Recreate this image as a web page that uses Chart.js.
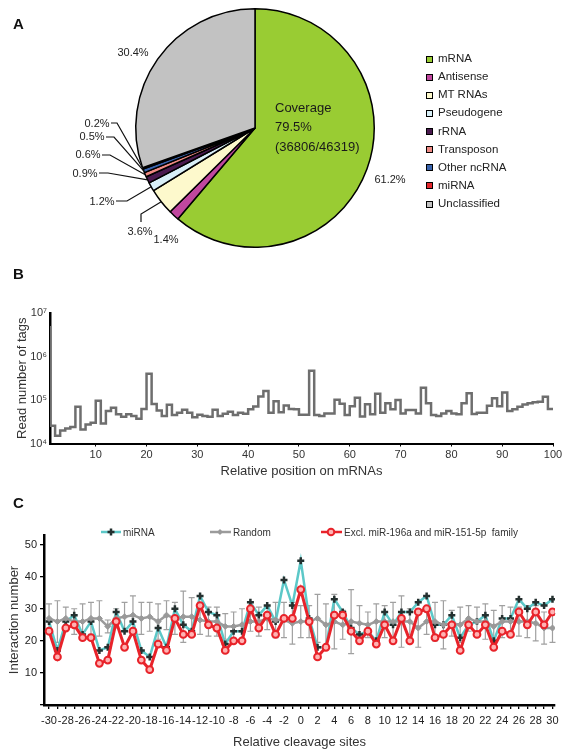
<!DOCTYPE html>
<html>
<head>
<meta charset="utf-8">
<script src="https://cdn.jsdelivr.net/npm/chart.js@4.4.1/dist/chart.umd.min.js"></script>
<style>
  body { margin: 0; background: #fff; font-family: "Liberation Sans", Arial, sans-serif; color: #222; }
  #wrap { position: relative; width: 573px; height: 755px; overflow: hidden; }
  canvas { position: absolute; left: 0; }
  .tag { position: absolute; left: 13px; font-weight: bold; font-size: 15px; color: #111; }
  #legendA { position: absolute; left: 426px; top: 49px; font-size: 11.5px; color: #222; }
  #legendA div { height: 18.15px; line-height: 18.15px; white-space: nowrap; }
  #legendA span.box { display: inline-block; width: 5px; height: 5px; border: 1.2px solid #000; margin-right: 5px; vertical-align: -0.5px; }
  .legC { position: absolute; top: 527px; font-size: 10px; color: #333; white-space: nowrap; line-height: 12px; }
  .legC svg { vertical-align: -1px; margin-right: 2px; }
</style>
</head>
<body>
<div id="wrap">
  <canvas id="chartA" width="573" height="260" style="top:0"></canvas>
  <canvas id="chartB" width="573" height="193" style="top:290px"></canvas>
  <canvas id="chartC" width="573" height="234" style="top:520px"></canvas>
  <div class="tag" style="top:15px">A</div>
  <div class="tag" style="top:265px">B</div>
  <div class="tag" style="top:494px">C</div>
  <div id="legendA"></div>
  <div class="legC" style="left:101px"><svg width="20" height="10"><line x1="0" y1="5" x2="20" y2="5" stroke="#5cc8c8" stroke-width="2.5"/><path d="M10 1.5V8.5M6.5 5H13.5" stroke="#24302f" stroke-width="2.5"/></svg>miRNA</div>
  <div class="legC" style="left:210px"><svg width="21" height="10"><line x1="0" y1="5" x2="21" y2="5" stroke="#9b9b9b" stroke-width="2.5"/><path d="M10 2L13 5L10 8L7 5Z" fill="#999"/></svg>Random</div>
  <div class="legC" style="left:321px"><svg width="21" height="10"><line x1="0" y1="5" x2="21" y2="5" stroke="#e8232a" stroke-width="2.5"/><circle cx="10" cy="5" r="3.3" fill="#ffb3b3" stroke="#e8232a" stroke-width="2"/></svg>Excl. miR-196a and miR-151-5p&nbsp; family</div>
</div>
<script>
// ---- Panel A: read categories ----
const pieLabels = ['mRNA', 'Antisense', 'MT RNAs', 'Pseudogene', 'rRNA', 'Transposon', 'Other ncRNA', 'miRNA', 'Unclassified'];
const pieShares = [61.2, 1.4, 3.6, 1.2, 0.9, 0.6, 0.5, 0.2, 30.4];
const pieColors = ['#99cc33', '#c0479e', '#fdf9cc', '#d8eff7', '#4a1a4f', '#ef8a84', '#3a64ad', '#e4272d', '#c2c2c2'];
const coverageText = ['Coverage', '79.5%', '(36806/46319)'];

// ---- Panel B: read number of tags per relative position ----
const readCounts = [
  5.0e6, 2.55e4, 1.5e4, 2.0e4, 2.2e4, 2.4e4, 7.0e4, 2.1e4, 2.75e4, 3.0e4,
  9.6e4, 2.9e4, 5.6e4, 6.6e4, 4.7e4, 4.1e4, 4.7e4, 4.3e4, 3.7e4, 6.2e4,
  4.0e5, 8.1e4, 5.7e4, 4.3e4, 7.8e4, 4.5e4, 5.1e4, 6.0e4, 5.1e4, 4.0e4,
  4.6e4, 4.3e4, 4.1e4, 6.0e4, 4.3e4, 4.8e4, 5.4e4, 4.5e4, 5.1e4, 4.8e4,
  6.1e4, 7.1e4, 1.2e5, 1.62e5, 5.1e4, 9.3e4, 5.2e4, 7.5e4, 6.2e4, 6.1e4,
  4.6e4, 4.6e4, 4.7e5, 4.5e4, 4.3e4, 4.9e4, 4.9e4, 1.02e5, 8.2e4, 4.5e4,
  7.2e4, 1.12e5, 4.2e4, 8.0e4, 4.7e4, 1.4e5, 5.1e4, 8.4e4, 6.1e4, 1.0e5,
  4.9e4, 5.9e4, 5.9e4, 4.9e4, 1.92e5, 8.4e4, 4.5e4, 4.3e4, 4.9e4, 5.6e4,
  4.9e4, 4.7e4, 8.4e4, 1.43e5, 4.75e4, 5.1e4, 5.1e4, 7.4e4, 1.1e5, 7.2e4,
  1.48e5, 5.6e4, 6.1e4, 7.0e4, 7.9e4, 8.4e4, 8.9e4, 9.1e4, 1.19e5, 6.2e4
];
const positions = readCounts.map((v, i) => i + 1);
const xTicksB = [10, 20, 30, 40, 50, 60, 70, 80, 90, 100];
const yTicksB = [1e4, 1e5, 1e6, 1e7];

// ---- Panel C: interaction number around cleavage sites ----
const sites = [-30, -29, -28, -27, -26, -25, -24, -23, -22, -21, -20, -19, -18, -17, -16, -15, -14, -13, -12, -11, -10,
  -9, -8, -7, -6, -5, -4, -3, -2, -1, 0, 1, 2, 3, 4, 5, 6, 7, 8, 9, 10,
  11, 12, 13, 14, 15, 16, 17, 18, 19, 20, 21, 22, 23, 24, 25, 26, 27, 28, 29, 30];
const mirnaCounts = [26, 17, 26, 28, 22, 26, 17, 18, 29, 23, 26, 17, 15, 24, 18, 30, 25, 23, 34, 29, 28,
  19, 23, 23, 32, 28, 31, 26, 39, 31, 45, 27, 18, 18, 33, 29, 24, 22, 23, 20, 29,
  25, 29, 29, 32, 34, 25, 25, 28, 21, 25, 26, 28, 20, 27, 27, 33, 30, 32, 31, 33];
const randomMean = [27, 26, 27, 26, 26, 27, 27, 24.5, 27, 27.5, 28, 27, 27.5, 26, 28, 27, 27.5, 27.5, 26.5, 26, 26,
  24.5, 24.5, 25, 26, 26, 27, 26.5, 26.5, 25.5, 26, 26, 27, 25, 26, 25, 26, 25.5, 25, 26, 26,
  26, 26, 26, 24, 26, 26, 25, 25.5, 25, 27, 26, 26, 24.5, 26, 26, 26, 26, 25.5, 24, 24];
const randomErr = [4.5, 6.5, 3.5, 4, 5.5, 5, 5.5, 2, 3, 4.5, 6, 5, 4.5, 5.5, 4.5, 5, 8, 6, 4.5, 4.5, 4.5,
  4, 4.5, 5, 3, 4.5, 3.5, 5.5, 5.5, 6.5, 5, 5, 7.5, 6.5, 8.5, 4.5, 10, 5.5, 4, 5.5, 5,
  6, 8, 4, 6, 4, 6, 7.5, 4, 5.5, 4, 4.5, 5.5, 5, 5, 4.5, 4.5, 5, 5.5, 5, 4.5];
const exclCounts = [23, 15, 24, 25, 21, 21, 13, 14, 26, 18, 23, 14, 11, 19, 17, 27, 22, 22, 31, 25, 24,
  17, 20, 20, 30, 24, 28, 22, 27, 27, 36, 26, 15, 18, 28, 28, 23, 20, 23, 19, 25,
  20, 27, 20, 29, 30, 21, 22, 25, 17, 25, 22, 25, 18, 23, 22, 29, 25, 29, 25, 29];
const yTicksC = [0, 10, 20, 30, 40, 50];

Chart.defaults.font.family = '"Liberation Sans", Arial, sans-serif';
Chart.defaults.color = '#222';
Chart.defaults.animation = false;

// label placement for the pie (text centre, leader start, elbow)
const pieLabelLayout = [
  { tx: 390, ty: 180 },
  { tx: 166, ty: 240 },
  { tx: 140, ty: 232, line: [[141, 222], [141, 214]] },
  { tx: 102, ty: 202, line: [[116, 201], [127, 201]] },
  { tx: 85, ty: 174, line: [[99, 173], [108, 173]] },
  { tx: 88, ty: 155, line: [[102, 155], [110, 155]] },
  { tx: 92, ty: 137, line: [[106, 137], [114, 137]] },
  { tx: 97, ty: 124, line: [[111, 123], [117, 123]] },
  { tx: 133, ty: 53 }
];

const pieLabelPlugin = {
  id: 'pieLabels',
  afterDatasetsDraw(chart) {
    const ctx = chart.ctx;
    const meta = chart.getDatasetMeta(0);
    ctx.save();
    ctx.font = '11px "Liberation Sans", Arial, sans-serif';
    ctx.fillStyle = '#222';
    ctx.strokeStyle = '#111';
    ctx.lineWidth = 1.2;
    ctx.textAlign = 'center';
    ctx.textBaseline = 'middle';
    meta.data.forEach((arc, i) => {
      const lay = pieLabelLayout[i];
      ctx.fillText(pieShares[i].toFixed(1) + '%', lay.tx, lay.ty);
      if (lay.line) {
        const mid = (arc.startAngle + arc.endAngle) / 2;
        const ex = arc.x + Math.cos(mid) * arc.outerRadius;
        const ey = arc.y + Math.sin(mid) * arc.outerRadius;
        ctx.beginPath();
        ctx.moveTo(lay.line[0][0], lay.line[0][1]);
        ctx.lineTo(lay.line[1][0], lay.line[1][1]);
        ctx.lineTo(ex, ey);
        ctx.stroke();
      }
    });
    // coverage text inside the mRNA slice
    const c = meta.data[0];
    ctx.font = '13px "Liberation Sans", Arial, sans-serif';
    ctx.textAlign = 'left';
    ctx.fillStyle = '#1a1a1a';
    coverageText.forEach((t, i) => ctx.fillText(t, c.x + 20, c.y - 20 + i * 19.5));
    ctx.restore();
  }
};

new Chart(document.getElementById('chartA'), {
  type: 'pie',
  data: {
    labels: pieLabels,
    datasets: [{
      data: pieShares,
      backgroundColor: pieColors,
      borderColor: '#000',
      borderWidth: 1.5
    }]
  },
  options: {
    responsive: false,
    layout: { padding: { left: 135, right: 198, top: 8, bottom: 12 } },
    plugins: { legend: { display: false }, tooltip: { enabled: false } }
  },
  plugins: [pieLabelPlugin]
});

// html legend for panel A
const legendA = document.getElementById('legendA');
legendA.innerHTML = pieLabels.map((l, i) =>
  `<div><span class="box" style="background:${pieColors[i]}"></span>${l}</div>`).join('');

// ---- Panel B ----
const sup = { 4: '\u2074', 5: '\u2075', 6: '\u2076', 7: '\u2077' };
new Chart(document.getElementById('chartB'), {
  type: 'line',
  data: {
    datasets: [{
      data: positions.map((p, i) => ({ x: p, y: readCounts[i] })),
      stepped: 'after',
      borderColor: '#6e6e6e',
      borderWidth: 2.5,
      pointRadius: 0,
      fill: false
    }]
  },
  options: {
    responsive: false,
    layout: { padding: { left: 11, right: 20, top: 23, bottom: 0 } },
    plugins: { legend: { display: false }, tooltip: { enabled: false } },
    scales: {
      x: {
        type: 'linear', min: 1, max: 100,
        afterBuildTicks: s => { s.ticks = xTicksB.map(v => ({ value: v })); },
        afterFit: s => { s.height = 39.5; },
        grid: { drawOnChartArea: false, tickLength: 3, color: '#000' },
        border: { color: '#000', width: 2 },
        ticks: { font: { size: 11 }, color: '#333', padding: 2, maxRotation: 0, autoSkip: false },
        title: { display: true, text: 'Relative position on mRNAs', font: { size: 13 }, color: '#333' }
      },
      y: {
        type: 'logarithmic', min: 1e4, max: 1e7,
        afterBuildTicks: s => { s.ticks = yTicksB.map(v => ({ value: v })); },
        afterFit: s => { s.width = 39; },
        grid: { drawOnChartArea: false, drawTicks: false },
        border: { color: '#000', width: 2.5 },
        ticks: {
          font: { size: 11 }, color: '#333', padding: 3,
          callback: v => '10' + sup[Math.round(Math.log10(v))]
        },
        title: { display: true, text: 'Read number of tags', font: { size: 13 }, color: '#333' }
      }
    }
  }
});

// ---- Panel C ----
const errorBarPlugin = {
  id: 'errorBars',
  beforeDatasetsDraw(chart) {
    const { ctx, scales: { x, y } } = chart;
    ctx.save();
    ctx.strokeStyle = '#a0a0a0';
    ctx.lineWidth = 1.2;
    sites.forEach((s, i) => {
      const px = x.getPixelForValue(s);
      const top = y.getPixelForValue(randomMean[i] + randomErr[i]);
      const bot = y.getPixelForValue(randomMean[i] - randomErr[i]);
      ctx.beginPath();
      ctx.moveTo(px, top); ctx.lineTo(px, bot);
      ctx.moveTo(px - 3, top); ctx.lineTo(px + 3, top);
      ctx.moveTo(px - 3, bot); ctx.lineTo(px + 3, bot);
      ctx.stroke();
    });
    ctx.restore();
  }
};

new Chart(document.getElementById('chartC'), {
  type: 'line',
  data: {
    datasets: [
      {
        label: 'Excl. miR-196a and miR-151-5p family',
        data: sites.map((s, i) => ({ x: s, y: exclCounts[i] })),
        borderColor: '#e8232a', borderWidth: 3,
        pointStyle: 'circle', pointRadius: 3.4, pointBorderWidth: 2,
        pointBackgroundColor: '#ffb3b3', pointBorderColor: '#e8232a',
        tension: 0
      },
      {
        label: 'Random',
        data: sites.map((s, i) => ({ x: s, y: randomMean[i] })),
        borderColor: '#9b9b9b', borderWidth: 2.5,
        pointStyle: 'rectRot', pointRadius: 3, pointBorderWidth: 1,
        pointBackgroundColor: '#999', pointBorderColor: '#999',
        tension: 0
      },
      {
        label: 'miRNA',
        data: sites.map((s, i) => ({ x: s, y: mirnaCounts[i] })),
        borderColor: '#5cc8c8', borderWidth: 2.5,
        pointStyle: 'cross', pointRadius: 3.5, pointBorderWidth: 2.5,
        pointBorderColor: '#24302f',
        tension: 0
      }
    ]
  },
  options: {
    responsive: false,
    layout: { padding: { left: 3, right: 18, top: 15, bottom: 0 } },
    plugins: { legend: { display: false }, tooltip: { enabled: false } },
    scales: {
      x: {
        type: 'linear', min: -30.6, max: 30.3,
        afterBuildTicks: s => { s.ticks = sites.map(v => ({ value: v })); },
        afterFit: s => { s.height = 49; },
        grid: { drawOnChartArea: false, tickLength: 4, color: '#000', lineWidth: 1.3 },
        border: { color: '#000', width: 2.5 },
        ticks: {
          font: { size: 11 }, color: '#222', padding: 5, maxRotation: 0, autoSkip: false,
          callback: v => (v % 2 === 0 ? String(v) : '')
        },
        title: { display: true, text: 'Relative cleavage sites', font: { size: 13 }, color: '#333' }
      },
      y: {
        min: 0, max: 53,
        afterBuildTicks: s => { s.ticks = yTicksC.map(v => ({ value: v })); },
        afterFit: s => { s.width = 41; },
        grid: { drawOnChartArea: false, tickLength: 4, color: '#000', lineWidth: 1.3 },
        border: { color: '#000', width: 2.5 },
        ticks: { font: { size: 11 }, color: '#222', padding: 3, callback: v => (v === 0 ? '' : String(v)) },
        title: { display: true, text: 'Interaction number', font: { size: 13 }, color: '#333' }
      }
    }
  },
  plugins: [errorBarPlugin]
});
</script>
</body>
</html>
